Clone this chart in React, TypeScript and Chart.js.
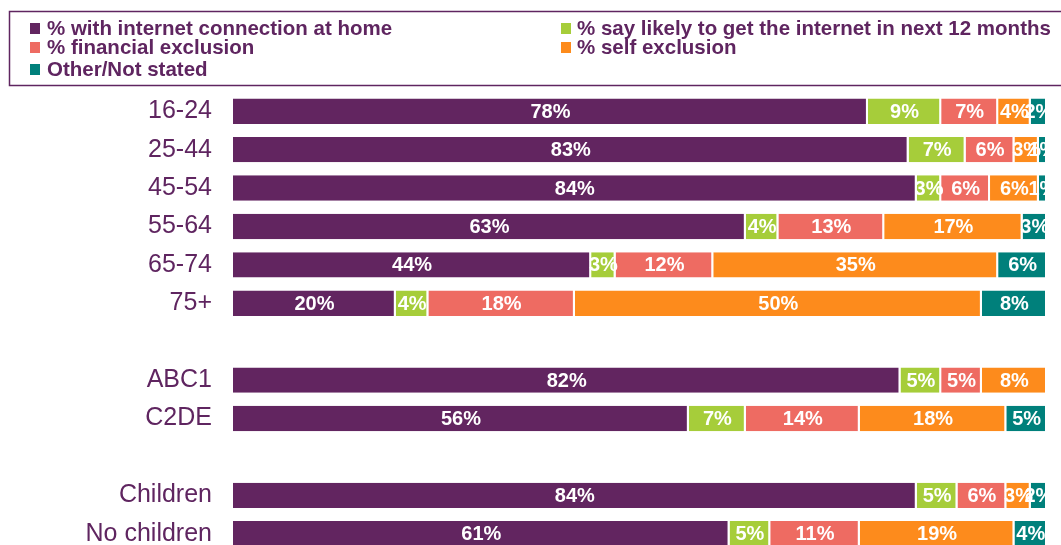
import React, { useEffect, useRef } from "react";
import { Chart, registerables } from "chart.js";

Chart.register(...registerables);

const categories = ["16-24", "25-44", "45-54", "55-64", "65-74", "75+", "", "ABC1", "C2DE", "", "Children", "No children"];
const homeConnection = [78, 83, 84, 63, 44, 20, null, 82, 56, null, 84, 61];
const likelyNext12 = [9, 7, 3, 4, 3, 4, null, 5, 7, null, 5, 5];
const financialExclusion = [7, 6, 6, 13, 12, 18, null, 5, 14, null, 6, 11];
const selfExclusion = [4, 3, 6, 17, 35, 50, null, 8, 18, null, 3, 19];
const otherNotStated = [2, 1, 1, 3, 6, 8, null, 0, 5, null, 2, 4];

const seriesLabels = [
  "% with internet connection at home",
  "% say likely to get the internet in next 12 months",
  "% financial exclusion",
  "% self exclusion",
  "Other/Not stated",
];
const seriesColors = ["#622560", "#a6cd3a", "#ee6b62", "#fd8b1c", "#00807b"];
const TEXT_PURPLE = "#5f2560";
const FONT = "'Liberation Sans', Arial, sans-serif";

const labelsPlugin = {
  id: "segLabels",
  afterDatasetsDraw(chart: any) {
    const ctx = chart.ctx;
    const area = chart.chartArea;
    ctx.save();
    ctx.beginPath();
    ctx.rect(area.left, 0, area.right - area.left, chart.height);
    ctx.clip();
    ctx.font = `bold 20px ${FONT}`;
    ctx.fillStyle = "#ffffff";
    ctx.textAlign = "center";
    ctx.textBaseline = "middle";
    chart.data.datasets.forEach((ds: any, di: number) => {
      const meta = chart.getDatasetMeta(di);
      meta.data.forEach((el: any, i: number) => {
        const v = ds.data[i];
        if (v == null || v === 0) return;
        const cx = (el.x + el.base) / 2;
        ctx.fillText(`${v}%`, cx, el.y + 1);
      });
    });
    ctx.restore();
  },
};

const legendPlugin = {
  id: "boxLegend",
  afterDraw(chart: any) {
    const ctx = chart.ctx;
    ctx.save();
    ctx.strokeStyle = TEXT_PURPLE;
    ctx.lineWidth = 1.5;
    ctx.strokeRect(9.5, 11.5, 1200, 74);
    const positions = [
      { sx: 30, tx: 47, y: 28 },
      { sx: 561, tx: 577, y: 28 },
      { sx: 30, tx: 47, y: 47 },
      { sx: 561, tx: 577, y: 47 },
      { sx: 30, tx: 47, y: 69 },
    ];
    ctx.font = `bold 20.5px ${FONT}`;
    ctx.textBaseline = "middle";
    ctx.textAlign = "left";
    seriesLabels.forEach((lab, i) => {
      const p = positions[i];
      ctx.fillStyle = seriesColors[i];
      ctx.fillRect(p.sx, p.y - 5, 10, 11);
      ctx.fillStyle = TEXT_PURPLE;
      ctx.fillText(lab, p.tx, p.y + 1);
    });
    ctx.restore();
  },
};

export default function App() {
  const ref = useRef<HTMLCanvasElement>(null);
  useEffect(() => {
    if (!ref.current) return;
    const data = [homeConnection, likelyNext12, financialExclusion, selfExclusion, otherNotStated];
    const chart = new Chart(ref.current, {
      type: "bar",
      data: {
        labels: categories,
        datasets: data.map((d, i) => ({
          label: seriesLabels[i],
          data: d,
          backgroundColor: seriesColors[i],
          borderColor: "#ffffff",
          borderWidth: { left: 0, top: 0, bottom: 0, right: 2 },
          borderSkipped: false,
          categoryPercentage: 1,
          barPercentage: 0.66,
        })),
      },
      options: {
        indexAxis: "y",
        animation: false,
        responsive: false,
        maintainAspectRatio: false,
        layout: { padding: { top: 92, right: 14, left: 0, bottom: 0 } },
        plugins: { legend: { display: false }, tooltip: { enabled: false } },
        scales: {
          x: { stacked: true, min: 0, max: 100, display: false },
          y: {
            stacked: true,
            grid: { display: false, drawTicks: false },
            border: { display: false },
            ticks: { padding: 21, color: TEXT_PURPLE, font: { family: FONT, size: 25 } },
            afterFit(scale: any) {
              scale.width = 233;
              scale.paddingTop = 0;
              scale.paddingBottom = 0;
            },
          },
        },
      },
      plugins: [labelsPlugin, legendPlugin],
    } as any);
    return () => chart.destroy();
  }, []);
  return (
    <div style={{ position: "absolute", left: 0, top: 0, width: 1061, height: 553 }}>
      <canvas ref={ref} width={1061} height={553} style={{ display: "block" }} />
    </div>
  );
}
